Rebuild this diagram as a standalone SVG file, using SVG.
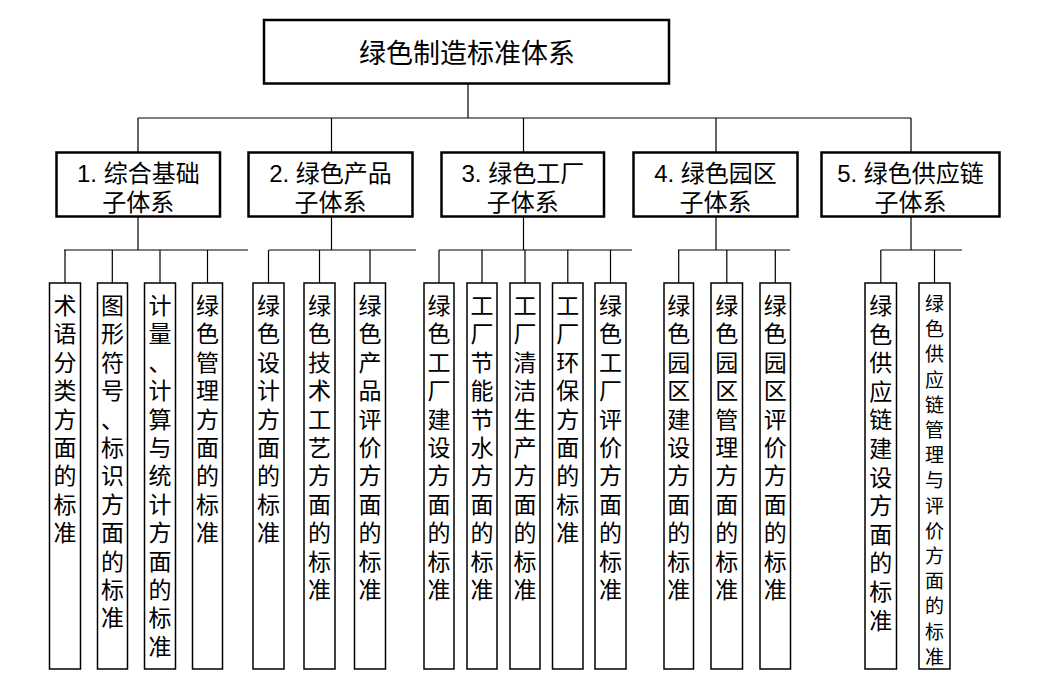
<svg xmlns="http://www.w3.org/2000/svg" width="1053" height="699" viewBox="0 0 1053 699">
<style>
.bx{fill:#fff;stroke:#000;stroke-width:2.5}
.lf{fill:none;stroke:#000;stroke-width:1.5}
.cn{fill:none;stroke:#000;stroke-width:1.2}
text{font-family:"Liberation Sans","Noto Sans CJK SC",sans-serif;fill:#000;text-anchor:middle}
.t0{font-size:27px}
.t1{font-size:24px}
.t2{font-size:23px}
.t3{font-size:19px}
</style>
<rect width="1053" height="699" fill="#fff"/>
<g id="connectors" class="cn">
<path d="M468 84V118M138 118H911M138 118V153M331.5 118V153M523.5 118V153M716 118V153M911 118V153"/>
<path d="M138 217V250M64 250H248M65 250V283M112.3 250V283M160 250V283M207.5 250V283"/>
<path d="M331.5 217V250M269 250H416M268.5 250V283M319.5 250V283M370 250V283"/>
<path d="M523.5 217V250M439 250H632M439 250V283M482 250V283M525 250V283M567.8 250V283M610.5 250V283"/>
<path d="M716 217V250M678 250H790M678.7 250V283M726.8 250V283M775.3 250V283"/>
<path d="M911 217V250M881 250H962M880.8 250V283M934.5 250V283"/>
</g>
<g id="root">
<rect class="bx" x="264" y="20" width="405" height="63.5"/>
<text class="t0" x="467" y="63">绿色制造标准体系</text>
</g>
<g id="s1">
<rect class="bx" x="56.5" y="152.5" width="163.5" height="64"/>
<text class="t1" x="138.3" y="182">1. 综合基础</text>
<text class="t1" x="138.3" y="210.5">子体系</text>
</g>
<g id="s2">
<rect class="bx" x="248.5" y="152.5" width="164" height="64"/>
<text class="t1" x="330.5" y="182">2. 绿色产品</text>
<text class="t1" x="330.5" y="210.5">子体系</text>
</g>
<g id="s3">
<rect class="bx" x="441.5" y="152.5" width="162.5" height="64"/>
<text class="t1" x="522.8" y="182">3. 绿色工厂</text>
<text class="t1" x="522.8" y="210.5">子体系</text>
</g>
<g id="s4">
<rect class="bx" x="633.5" y="152.5" width="164" height="64"/>
<text class="t1" x="715.5" y="182">4. 绿色园区</text>
<text class="t1" x="715.5" y="210.5">子体系</text>
</g>
<g id="s5">
<rect class="bx" x="821.5" y="152.5" width="178" height="64"/>
<text class="t1" x="910.5" y="182">5. 绿色供应链</text>
<text class="t1" x="910.5" y="210.5">子体系</text>
</g>
<g id="l1"><rect class="lf" x="49.5" y="283" width="31" height="386"/>
<text class="t2"><tspan x="65" y="314">术</tspan><tspan x="65" dy="28.4">语</tspan><tspan x="65" dy="28.4">分</tspan><tspan x="65" dy="28.4">类</tspan><tspan x="65" dy="28.4">方</tspan><tspan x="65" dy="28.4">面</tspan><tspan x="65" dy="28.4">的</tspan><tspan x="65" dy="28.4">标</tspan><tspan x="65" dy="28.4">准</tspan></text></g>
<g id="l2"><rect class="lf" x="97.5" y="283" width="30" height="386"/>
<text class="t2"><tspan x="112.5" y="314">图</tspan><tspan x="112.5" dy="28.4">形</tspan><tspan x="112.5" dy="28.4">符</tspan><tspan x="112.5" dy="28.4">号</tspan><tspan x="112.5" dy="28.4">、</tspan><tspan x="112.5" dy="28.4">标</tspan><tspan x="112.5" dy="28.4">识</tspan><tspan x="112.5" dy="28.4">方</tspan><tspan x="112.5" dy="28.4">面</tspan><tspan x="112.5" dy="28.4">的</tspan><tspan x="112.5" dy="28.4">标</tspan><tspan x="112.5" dy="28.4">准</tspan></text></g>
<g id="l3"><rect class="lf" x="144.5" y="283" width="31" height="386"/>
<text class="t2"><tspan x="160" y="314">计</tspan><tspan x="160" dy="28.4">量</tspan><tspan x="160" dy="28.4">、</tspan><tspan x="160" dy="28.4">计</tspan><tspan x="160" dy="28.4">算</tspan><tspan x="160" dy="28.4">与</tspan><tspan x="160" dy="28.4">统</tspan><tspan x="160" dy="28.4">计</tspan><tspan x="160" dy="28.4">方</tspan><tspan x="160" dy="28.4">面</tspan><tspan x="160" dy="28.4">的</tspan><tspan x="160" dy="28.4">标</tspan><tspan x="160" dy="28.4">准</tspan></text></g>
<g id="l4"><rect class="lf" x="192.5" y="283" width="30" height="386"/>
<text class="t2"><tspan x="207.5" y="314">绿</tspan><tspan x="207.5" dy="28.4">色</tspan><tspan x="207.5" dy="28.4">管</tspan><tspan x="207.5" dy="28.4">理</tspan><tspan x="207.5" dy="28.4">方</tspan><tspan x="207.5" dy="28.4">面</tspan><tspan x="207.5" dy="28.4">的</tspan><tspan x="207.5" dy="28.4">标</tspan><tspan x="207.5" dy="28.4">准</tspan></text></g>
<g id="l5"><rect class="lf" x="253" y="283" width="31" height="386"/>
<text class="t2"><tspan x="268.5" y="314">绿</tspan><tspan x="268.5" dy="28.4">色</tspan><tspan x="268.5" dy="28.4">设</tspan><tspan x="268.5" dy="28.4">计</tspan><tspan x="268.5" dy="28.4">方</tspan><tspan x="268.5" dy="28.4">面</tspan><tspan x="268.5" dy="28.4">的</tspan><tspan x="268.5" dy="28.4">标</tspan><tspan x="268.5" dy="28.4">准</tspan></text></g>
<g id="l6"><rect class="lf" x="304" y="283" width="31" height="386"/>
<text class="t2"><tspan x="319.5" y="314">绿</tspan><tspan x="319.5" dy="28.4">色</tspan><tspan x="319.5" dy="28.4">技</tspan><tspan x="319.5" dy="28.4">术</tspan><tspan x="319.5" dy="28.4">工</tspan><tspan x="319.5" dy="28.4">艺</tspan><tspan x="319.5" dy="28.4">方</tspan><tspan x="319.5" dy="28.4">面</tspan><tspan x="319.5" dy="28.4">的</tspan><tspan x="319.5" dy="28.4">标</tspan><tspan x="319.5" dy="28.4">准</tspan></text></g>
<g id="l7"><rect class="lf" x="354.5" y="283" width="31" height="386"/>
<text class="t2"><tspan x="370" y="314">绿</tspan><tspan x="370" dy="28.4">色</tspan><tspan x="370" dy="28.4">产</tspan><tspan x="370" dy="28.4">品</tspan><tspan x="370" dy="28.4">评</tspan><tspan x="370" dy="28.4">价</tspan><tspan x="370" dy="28.4">方</tspan><tspan x="370" dy="28.4">面</tspan><tspan x="370" dy="28.4">的</tspan><tspan x="370" dy="28.4">标</tspan><tspan x="370" dy="28.4">准</tspan></text></g>
<g id="l8"><rect class="lf" x="424" y="283" width="30" height="386"/>
<text class="t2"><tspan x="439" y="314">绿</tspan><tspan x="439" dy="28.4">色</tspan><tspan x="439" dy="28.4">工</tspan><tspan x="439" dy="28.4">厂</tspan><tspan x="439" dy="28.4">建</tspan><tspan x="439" dy="28.4">设</tspan><tspan x="439" dy="28.4">方</tspan><tspan x="439" dy="28.4">面</tspan><tspan x="439" dy="28.4">的</tspan><tspan x="439" dy="28.4">标</tspan><tspan x="439" dy="28.4">准</tspan></text></g>
<g id="l9"><rect class="lf" x="467" y="283" width="30" height="386"/>
<text class="t2"><tspan x="482" y="314">工</tspan><tspan x="482" dy="28.4">厂</tspan><tspan x="482" dy="28.4">节</tspan><tspan x="482" dy="28.4">能</tspan><tspan x="482" dy="28.4">节</tspan><tspan x="482" dy="28.4">水</tspan><tspan x="482" dy="28.4">方</tspan><tspan x="482" dy="28.4">面</tspan><tspan x="482" dy="28.4">的</tspan><tspan x="482" dy="28.4">标</tspan><tspan x="482" dy="28.4">准</tspan></text></g>
<g id="l10"><rect class="lf" x="510" y="283" width="30" height="386"/>
<text class="t2"><tspan x="525" y="314">工</tspan><tspan x="525" dy="28.4">厂</tspan><tspan x="525" dy="28.4">清</tspan><tspan x="525" dy="28.4">洁</tspan><tspan x="525" dy="28.4">生</tspan><tspan x="525" dy="28.4">产</tspan><tspan x="525" dy="28.4">方</tspan><tspan x="525" dy="28.4">面</tspan><tspan x="525" dy="28.4">的</tspan><tspan x="525" dy="28.4">标</tspan><tspan x="525" dy="28.4">准</tspan></text></g>
<g id="l11"><rect class="lf" x="552.5" y="283" width="30.5" height="386"/>
<text class="t2"><tspan x="567.8" y="314">工</tspan><tspan x="567.8" dy="28.4">厂</tspan><tspan x="567.8" dy="28.4">环</tspan><tspan x="567.8" dy="28.4">保</tspan><tspan x="567.8" dy="28.4">方</tspan><tspan x="567.8" dy="28.4">面</tspan><tspan x="567.8" dy="28.4">的</tspan><tspan x="567.8" dy="28.4">标</tspan><tspan x="567.8" dy="28.4">准</tspan></text></g>
<g id="l12"><rect class="lf" x="595" y="283" width="31" height="386"/>
<text class="t2"><tspan x="610.5" y="314">绿</tspan><tspan x="610.5" dy="28.4">色</tspan><tspan x="610.5" dy="28.4">工</tspan><tspan x="610.5" dy="28.4">厂</tspan><tspan x="610.5" dy="28.4">评</tspan><tspan x="610.5" dy="28.4">价</tspan><tspan x="610.5" dy="28.4">方</tspan><tspan x="610.5" dy="28.4">面</tspan><tspan x="610.5" dy="28.4">的</tspan><tspan x="610.5" dy="28.4">标</tspan><tspan x="610.5" dy="28.4">准</tspan></text></g>
<g id="l13"><rect class="lf" x="664" y="283" width="29.5" height="386"/>
<text class="t2"><tspan x="678.7" y="314">绿</tspan><tspan x="678.7" dy="28.4">色</tspan><tspan x="678.7" dy="28.4">园</tspan><tspan x="678.7" dy="28.4">区</tspan><tspan x="678.7" dy="28.4">建</tspan><tspan x="678.7" dy="28.4">设</tspan><tspan x="678.7" dy="28.4">方</tspan><tspan x="678.7" dy="28.4">面</tspan><tspan x="678.7" dy="28.4">的</tspan><tspan x="678.7" dy="28.4">标</tspan><tspan x="678.7" dy="28.4">准</tspan></text></g>
<g id="l14"><rect class="lf" x="711" y="283" width="31.5" height="386"/>
<text class="t2"><tspan x="726.8" y="314">绿</tspan><tspan x="726.8" dy="28.4">色</tspan><tspan x="726.8" dy="28.4">园</tspan><tspan x="726.8" dy="28.4">区</tspan><tspan x="726.8" dy="28.4">管</tspan><tspan x="726.8" dy="28.4">理</tspan><tspan x="726.8" dy="28.4">方</tspan><tspan x="726.8" dy="28.4">面</tspan><tspan x="726.8" dy="28.4">的</tspan><tspan x="726.8" dy="28.4">标</tspan><tspan x="726.8" dy="28.4">准</tspan></text></g>
<g id="l15"><rect class="lf" x="760" y="283" width="30.5" height="386"/>
<text class="t2"><tspan x="775.3" y="314">绿</tspan><tspan x="775.3" dy="28.4">色</tspan><tspan x="775.3" dy="28.4">园</tspan><tspan x="775.3" dy="28.4">区</tspan><tspan x="775.3" dy="28.4">评</tspan><tspan x="775.3" dy="28.4">价</tspan><tspan x="775.3" dy="28.4">方</tspan><tspan x="775.3" dy="28.4">面</tspan><tspan x="775.3" dy="28.4">的</tspan><tspan x="775.3" dy="28.4">标</tspan><tspan x="775.3" dy="28.4">准</tspan></text></g>
<g id="l16"><rect class="lf" x="865" y="283" width="31.5" height="386"/>
<text class="t2"><tspan x="880.8" y="314">绿</tspan><tspan x="880.8" dy="28.6">色</tspan><tspan x="880.8" dy="28.6">供</tspan><tspan x="880.8" dy="28.6">应</tspan><tspan x="880.8" dy="28.6">链</tspan><tspan x="880.8" dy="28.6">建</tspan><tspan x="880.8" dy="28.6">设</tspan><tspan x="880.8" dy="28.6">方</tspan><tspan x="880.8" dy="28.6">面</tspan><tspan x="880.8" dy="28.6">的</tspan><tspan x="880.8" dy="28.6">标</tspan><tspan x="880.8" dy="28.6">准</tspan></text></g>
<g id="l17">
<text class="t3"><tspan x="934.5" y="311">绿</tspan><tspan x="934.5" dy="25.2">色</tspan><tspan x="934.5" dy="25.2">供</tspan><tspan x="934.5" dy="25.2">应</tspan><tspan x="934.5" dy="25.2">链</tspan><tspan x="934.5" dy="25.2">管</tspan><tspan x="934.5" dy="25.2">理</tspan><tspan x="934.5" dy="25.2">与</tspan><tspan x="934.5" dy="25.2">评</tspan><tspan x="934.5" dy="25.2">价</tspan><tspan x="934.5" dy="25.2">方</tspan><tspan x="934.5" dy="25.2">面</tspan><tspan x="934.5" dy="25.2">的</tspan><tspan x="934.5" dy="25.2">标</tspan><tspan x="934.5" dy="25.2">准</tspan></text>
<rect class="lf" x="919" y="283" width="31" height="386"/>
</g>
</svg>
